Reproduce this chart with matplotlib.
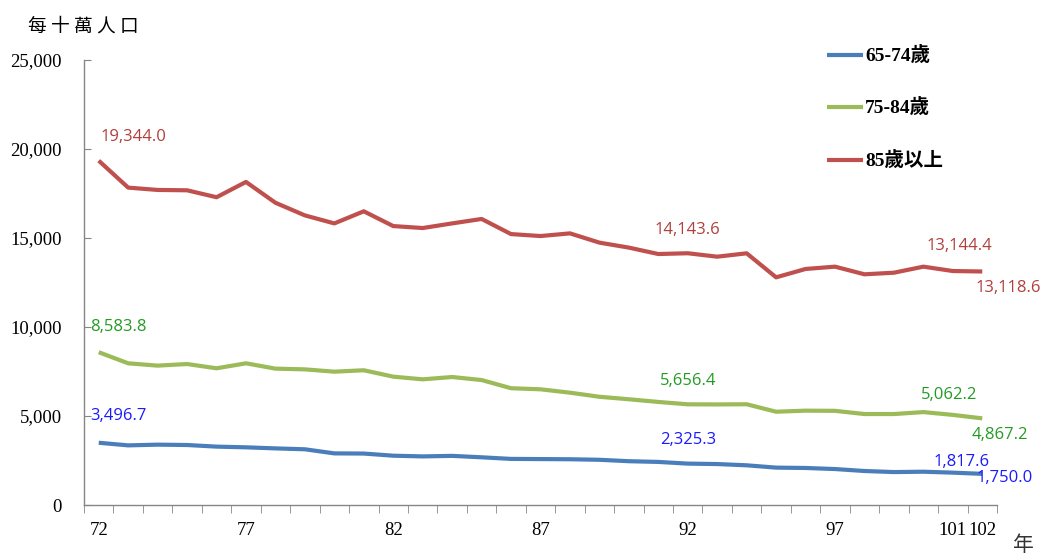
import matplotlib
matplotlib.use('Agg')
import matplotlib.pyplot as plt
from matplotlib.font_manager import FontProperties
from matplotlib.ticker import FuncFormatter, FixedLocator

# 年度（民國）
years = list(range(72, 103))
tick_years = [72, 77, 82, 87, 92, 97, 101, 102]

# 每十萬人口
age_65_74 = [3496.7, 3350, 3390, 3370, 3280, 3240, 3180, 3130, 2900, 2890,
             2770, 2730, 2760, 2680, 2590, 2580, 2570, 2540, 2460, 2420,
             2325.3, 2300, 2230, 2100, 2080, 2020, 1910, 1850, 1870, 1817.6,
             1750.0]
age_75_84 = [8583.8, 7960, 7830, 7920, 7680, 7960, 7660, 7620, 7490, 7570,
             7210, 7060, 7190, 7020, 6560, 6500, 6310, 6080, 5940, 5790,
             5656.4, 5650, 5660, 5240, 5300, 5290, 5110, 5110, 5220, 5062.2,
             4867.2]
age_85 = [19344.0, 17830, 17700, 17680, 17290, 18150, 16980, 16270, 15820, 16500,
          15670, 15560, 15820, 16070, 15220, 15110, 15260, 14740, 14460, 14100,
          14143.6, 13950, 14140, 12790, 13260, 13390, 12960, 13050, 13390, 13144.4,
          13118.6]

names = ['65-74歲', '75-84歲', '85歲以上']
line_colors = ['#4A7EBB', '#9BBB59', '#C0504D']
label_colors = ['#1A1AFF', '#239B23', '#B0403C']

# 標示數值的點 (索引) 與文字偏移 (pt)
label_idx = [0, 20, 29, 30]
offsets = [
    [(14, 19), (0, 17), (6, 8), (16, -3)],
    [(14, 18), (0, 17), (-3, 14), (13, -12)],
    [(25, 17), (0, 17), (5, 18), (19, -12)],
]

fig = plt.figure(figsize=(10.44, 5.57), dpi=100)
ax = fig.add_axes([84 / 1044, 1 - 505 / 557, (997 - 84) / 1044, (505 - 60) / 557])

x = list(range(len(years)))
series = [age_65_74, age_75_84, age_85]
lines = []
for s, name, c in zip(series, names, line_colors):
    ln, = ax.plot(x, s, color=c, lw=3, label=name, solid_capstyle='butt')
    lines.append(ln)

for s, lc, offs in zip(series, label_colors, offsets):
    for i, off in zip(label_idx, offs):
        ax.annotate(f'{s[i]:,.1f}', (x[i], s[i]), xytext=off, textcoords='offset points',
                    ha='center', va='center', color=lc, fontsize=12, family='Open Sans')

ax.set_xlim(-0.5, len(years) - 0.5)
ax.set_ylim(0, 25000)
ax.set_yticks(range(0, 25001, 5000))
ax.yaxis.set_major_formatter(FuncFormatter(lambda v, p: f'{int(v):,}'))

ax.xaxis.set_major_locator(FixedLocator([years.index(y) for y in tick_years]))
ax.set_xticklabels([str(y) for y in tick_years])
ax.xaxis.set_minor_locator(FixedLocator([i - 0.5 for i in range(len(years) + 1)]))
ax.tick_params(axis='x', which='major', length=0, pad=12)
ax.tick_params(axis='x', which='minor', length=6, direction='out', color='#868686')
ax.tick_params(axis='y', length=5, direction='in', color='#868686', pad=16)
for lab in ax.get_xticklabels() + ax.get_yticklabels():
    lab.set_family('Liberation Serif')
    lab.set_fontsize(13.5)

for sp in ['top', 'right']:
    ax.spines[sp].set_visible(False)
for sp in ['left', 'bottom']:
    ax.spines[sp].set_color('#868686')
    ax.spines[sp].set_linewidth(1)

leg_font = FontProperties(family=['Liberation Serif', 'Noto Sans CJK TC'], weight='bold', size=14)
fig.legend(handles=lines, loc='upper left', bbox_to_anchor=(827 / 1044, 1 - 47 / 557),
           frameon=False, prop=leg_font, handlelength=1.85, handletextpad=0.12,
           labelspacing=1.7, borderpad=0, borderaxespad=0)

fig.text(28 / 1044, 1 - 26 / 557, '每 十 萬 人 口', family='Noto Sans CJK TC', fontsize=13.5,
         va='center', ha='left')
fig.text(1013 / 1044, 1 - 545 / 557, '年', family='Noto Sans CJK TC', fontsize=15,
         va='center', ha='left', color='#333333')

fig.savefig('out.png', dpi=100)
